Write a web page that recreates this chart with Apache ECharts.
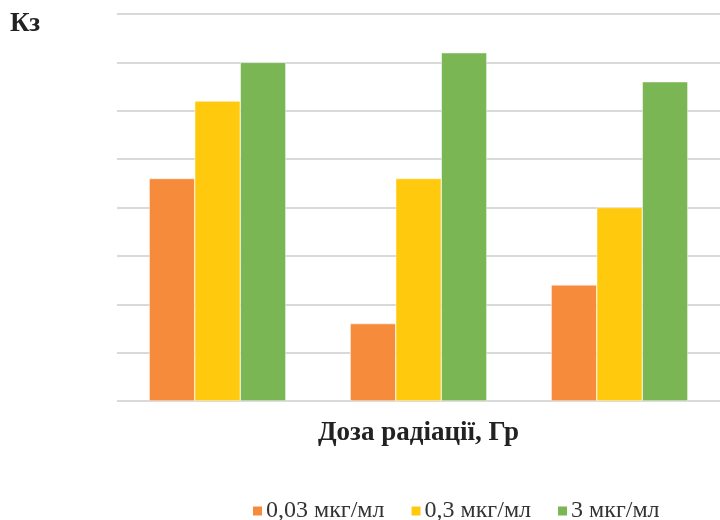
<!DOCTYPE html>
<html><head><meta charset="utf-8">
<script src="https://cdn.jsdelivr.net/npm/echarts@6/dist/echarts.min.js"></script>
<style>html,body{margin:0;padding:0;background:#fff}#c{width:720px;height:520px}</style>
</head><body><div id="c"></div>
<script>
const categories = ['1', '2', '3'];
const seriesNames = ['0,03 мкг/мл', '0,3 мкг/мл', '3 мкг/мл'];
const valuesLow = [4.6, 1.6, 2.4];
const valuesMid = [6.2, 4.6, 4.0];
const valuesHigh = [7.0, 7.2, 6.6];
const yTitle = 'Кз';
const xTitle = 'Доза радіації, Гр';

const colors = ['#F68B3C', '#FFC90D', '#7AB754'];
const chart = echarts.init(document.getElementById('c'), null, {renderer: 'canvas'});
const data = [valuesLow, valuesMid, valuesHigh];
chart.setOption({
  animation: false,
  color: colors,
  grid: {left: 117, right: 0, top: 14, bottom: 119},
  legend: {
    bottom: -8, left: 246,
    itemWidth: 11, itemHeight: 11, itemGap: 25,
    icon: 'rect',
    textStyle: {fontFamily: 'Liberation Serif', fontSize: 24, color: '#333', padding: [0, 0, 0, -2]},
    data: seriesNames
  },
  xAxis: {
    type: 'category', data: categories,
    axisLine: {show: false}, axisTick: {show: false}, axisLabel: {show: false},
    name: xTitle, nameLocation: 'middle', nameGap: 19,
    nameTextStyle: {fontFamily: 'Liberation Serif', fontWeight: 'bold', fontSize: 27, color: '#222'}
  },
  yAxis: {
    type: 'value', min: 0, max: 8, interval: 1,
    axisLine: {show: false}, axisTick: {show: false}, axisLabel: {show: false},
    splitLine: {lineStyle: {color: '#d9d9d9', width: 2}}
  },
  graphic: [{
    type: 'text', left: 10, top: 11,
    style: {text: yTitle, font: 'bold 27px "Liberation Serif"', fill: '#222'}
  }],
  series: seriesNames.map((n, i) => ({
    name: n, type: 'bar', data: data[i],
    barGap: '0%', barCategoryGap: '32%',
    itemStyle: {borderColor: '#fff', borderWidth: 0.5}
  }))
});
</script></body></html>
